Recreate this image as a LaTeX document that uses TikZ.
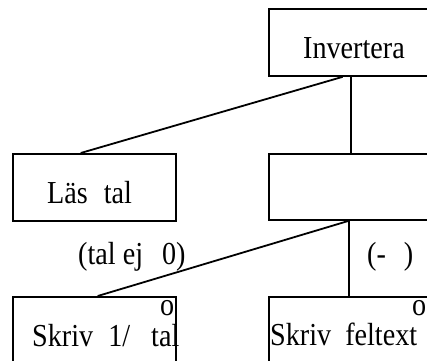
\documentclass[tikz,border=0pt]{standalone}
\usepackage{fontspec}
\setmainfont[FakeStretch=0.88]{Liberation Serif}
\usetikzlibrary{calc}
\begin{document}
\begin{tikzpicture}[x=1pt,y=-1pt,
  box/.style={draw,line width=1.8pt,rectangle,anchor=north west,inner sep=0pt},
  lbl/.style={inner sep=0pt,anchor=base west,font=\fontsize{32}{34}\selectfont},
  conn/.style={line width=1.8pt}]
\useasboundingbox (0,0) rectangle (427,360);
\clip (0,0) rectangle (427,360);
% boxes
\node[box,minimum width=172pt,minimum height=67pt] (inv) at (268,8) {};
\node[box,minimum width=163pt,minimum height=67pt] (las) at (12,153) {};
\node[box,minimum width=172pt,minimum height=66pt] (mid) at (268,153) {};
\node[box,minimum width=163pt,minimum height=90pt] (skr1) at (12,296) {};
\node[box,minimum width=172pt,minimum height=90pt] (skr2) at (268,296) {};
% texts
\node[lbl] (tinv) at (303,58) {Invertera};
\node[lbl] (tlas) at (47,203) {Läs\hspace{9pt} tal};
\node[lbl] (tcond1) at (78,264) {(tal ej\hspace{12pt} 0)};
\node[lbl] (tcond2) at (367,264) {(-\hspace{11pt} )};
\node[lbl] (o1) at (160,315) {o};
\node[lbl] (o2) at (412,315) {o};
\node[lbl] (tskr1) at (32,346) {Skriv\hspace{8pt} 1/\hspace{14pt} tal};
\node[lbl] (tskr2) at (270,345) {Skriv\hspace{7pt} feltext};
% connectors
\coordinate (invA) at ($(inv.south west)!0.43!(inv.south east)$);
\coordinate (invB) at ($(inv.south west)!0.477!(inv.south east)$);
\coordinate (lasT) at ($(las.north west)!0.417!(las.north east)$);
\coordinate (midT) at ($(mid.north west)!0.477!(mid.north east)$);
\coordinate (midB) at ($(mid.south west)!0.465!(mid.south east)$);
\coordinate (s1T) at ($(skr1.north west)!0.52!(skr1.north east)$);
\coordinate (s2T) at ($(skr2.north west)!0.465!(skr2.north east)$);
\draw[conn] (invA) -- (lasT);
\draw[conn] (invB) -- (midT);
\draw[conn] (midB) -- (s1T);
\draw[conn] (midB) -- (s2T);
\end{tikzpicture}
\end{document}
